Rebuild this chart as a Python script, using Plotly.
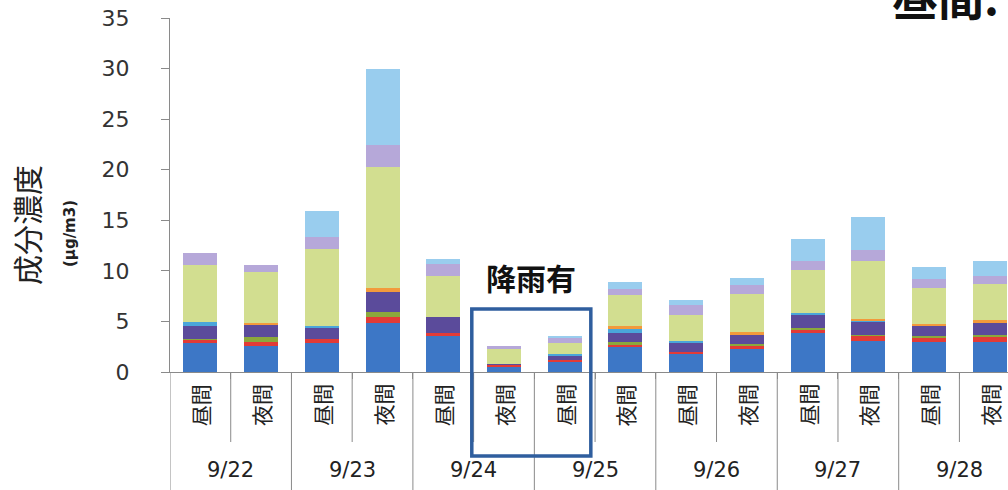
import plotly.graph_objects as go

# ---- data ----
periods = ["昼間", "夜間", "昼間", "夜間", "昼間", "夜間", "昼間", "夜間", "昼間", "夜間", "昼間", "夜間", "昼間", "夜間"]
dates = ["9/22", "9/23", "9/24", "9/25", "9/26", "9/27", "9/28"]

comp_blue     = [2.9, 2.6, 2.9, 4.8, 3.6, 0.5, 1.0, 2.5, 1.8, 2.3, 3.9, 3.1, 3.0, 3.0]
comp_red      = [0.3, 0.4, 0.4, 0.6, 0.3, 0.2, 0.2, 0.2, 0.2, 0.25, 0.35, 0.5, 0.4, 0.55]
comp_olive    = [0.1, 0.5, 0.0, 0.5, 0.0, 0.05, 0.0, 0.25, 0.0, 0.25, 0.15, 0.1, 0.15, 0.1]
comp_purple   = [1.2, 1.1, 1.1, 2.0, 1.5, 0.05, 0.4, 0.9, 0.9, 0.9, 1.3, 1.3, 1.0, 1.2]
comp_cyan     = [0.4, 0.0, 0.15, 0.0, 0.0, 0.0, 0.2, 0.4, 0.15, 0.0, 0.15, 0.1, 0.0, 0.0]
comp_orange   = [0.0, 0.2, 0.0, 0.4, 0.0, 0.0, 0.0, 0.25, 0.0, 0.3, 0.0, 0.1, 0.2, 0.25]
comp_ygreen   = [5.7, 5.1, 7.6, 12.0, 4.1, 1.5, 1.1, 3.1, 2.6, 3.7, 4.2, 5.8, 3.6, 3.6]
comp_lavender = [1.2, 0.7, 1.2, 2.1, 1.2, 0.3, 0.5, 0.65, 1.0, 0.9, 0.9, 1.1, 0.8, 0.75]
comp_sky      = [0.0, 0.0, 2.6, 7.6, 0.5, 0.0, 0.1, 0.6, 0.5, 0.7, 2.2, 3.2, 1.2, 1.5]

series = [
    ("成分1", comp_blue, "#3d77c6"),
    ("成分2", comp_red, "#e23b36"),
    ("成分3", comp_olive, "#8ba83c"),
    ("成分4", comp_purple, "#5b4b9b"),
    ("成分5", comp_cyan, "#4aa6da"),
    ("成分6", comp_orange, "#f29a3c"),
    ("成分7", comp_ygreen, "#d2de90"),
    ("成分8", comp_lavender, "#b6a8d9"),
    ("成分9", comp_sky, "#99cdee"),
]

xs = list(range(len(periods)))

fig = go.Figure()
for name, vals, col in series:
    fig.add_trace(go.Bar(x=xs, y=vals, name=name, marker=dict(color=col, line=dict(width=0)),
                         showlegend=False))

# page geometry (body margin removed in the page, so figure px == page px)
W, H = 1008, 490
PAGE_L, PAGE_T, PAGE_B, PAGE_R = 170, 18, 372, 1008
L = PAGE_L
T = PAGE_T
B = H - PAGE_B
R = W - PAGE_R
ph = PAGE_B - PAGE_T
pw = PAGE_R - PAGE_L

def py(px):
    return (PAGE_B - px) / ph

def pxp(px):
    return (px - PAGE_L) / pw

shapes = []
annotations = []
line_col = "#8a8a8a"
# dividers
for i in range(len(periods)):
    xb = i - 0.5
    y_end = py(H) if i % 2 == 0 else py(442)
    shapes.append(dict(type="line", xref="x", yref="paper", x0=xb, x1=xb, y0=0, y1=y_end,
                       line=dict(color=line_col, width=1)))
# period labels
for i, p in enumerate(periods):
    annotations.append(dict(x=i, y=py(405), xref="x", yref="paper", text=p, textangle=-90,
                            xanchor="center", yanchor="middle", showarrow=False,
                            font=dict(family="Noto Sans CJK JP", size=21, color="#222222")))
# date labels
for j, d in enumerate(dates):
    annotations.append(dict(x=2 * j + 0.5, y=py(470), xref="x", yref="paper", text=d,
                            xanchor="center", yanchor="middle", showarrow=False,
                            font=dict(family="DejaVu Sans", size=21, color="#222222")))

# rain box
shapes.append(dict(type="rect", xref="x", yref="paper", x0=4.47, x1=6.43, y0=py(456), y1=py(309),
                   line=dict(color="#2f5e9e", width=3.5)))
annotations.append(dict(x=5.45, y=py(277), xref="x", yref="paper", text="<b>降雨有</b>",
                        xanchor="center", yanchor="middle", showarrow=False,
                        font=dict(family="Noto Sans CJK JP", size=30, color="#111111")))

# axis titles
annotations.append(dict(x=pxp(26), y=py(225), xref="paper", yref="paper", text="成分濃度", textangle=-90,
                        xanchor="center", yanchor="middle", showarrow=False,
                        font=dict(family="Noto Sans CJK JP", size=30, color="#222222")))
annotations.append(dict(x=pxp(70), y=py(234), xref="paper", yref="paper", text="<b>(μg/m3)</b>", textangle=-90,
                        xanchor="center", yanchor="middle", showarrow=False,
                        font=dict(family="DejaVu Sans", size=15, color="#222222")))
# top right partial text (cut off at the top in the reference)
annotations.append(dict(x=pxp(945), y=py(30), xref="paper", yref="paper", text="<b>昼間:</b>",
                        xanchor="center", yanchor="bottom", showarrow=False,
                        font=dict(family="Noto Sans CJK JP", size=46, color="#111111")))

fig.update_layout(
    barmode="stack",
    bargap=0.44,
    width=W, height=H,
    margin=dict(l=L, r=R, t=T, b=B, autoexpand=False),
    paper_bgcolor="white", plot_bgcolor="white",
    xaxis=dict(range=[-0.5, 13.3], tickvals=[i + 0.5 for i in xs], showticklabels=False,
               ticks="outside", ticklen=6, tickcolor=line_col, showgrid=False, zeroline=False,
               showline=True, linecolor=line_col, linewidth=1),
    yaxis=dict(range=[0, 35], dtick=5, ticks="outside", ticklen=8, tickcolor=line_col,
               ticklabelstandoff=27, ticklabeloverflow="allow",
               showgrid=False, zeroline=False, showline=True, linecolor=line_col, linewidth=1,
               tickfont=dict(family="DejaVu Sans", size=22, color="#333333")),
    shapes=shapes,
    annotations=annotations,
)

fig.write_html("out.html", config={"displayModeBar": False},
               post_script="document.body.style.margin='0';document.body.style.overflow='hidden';")
